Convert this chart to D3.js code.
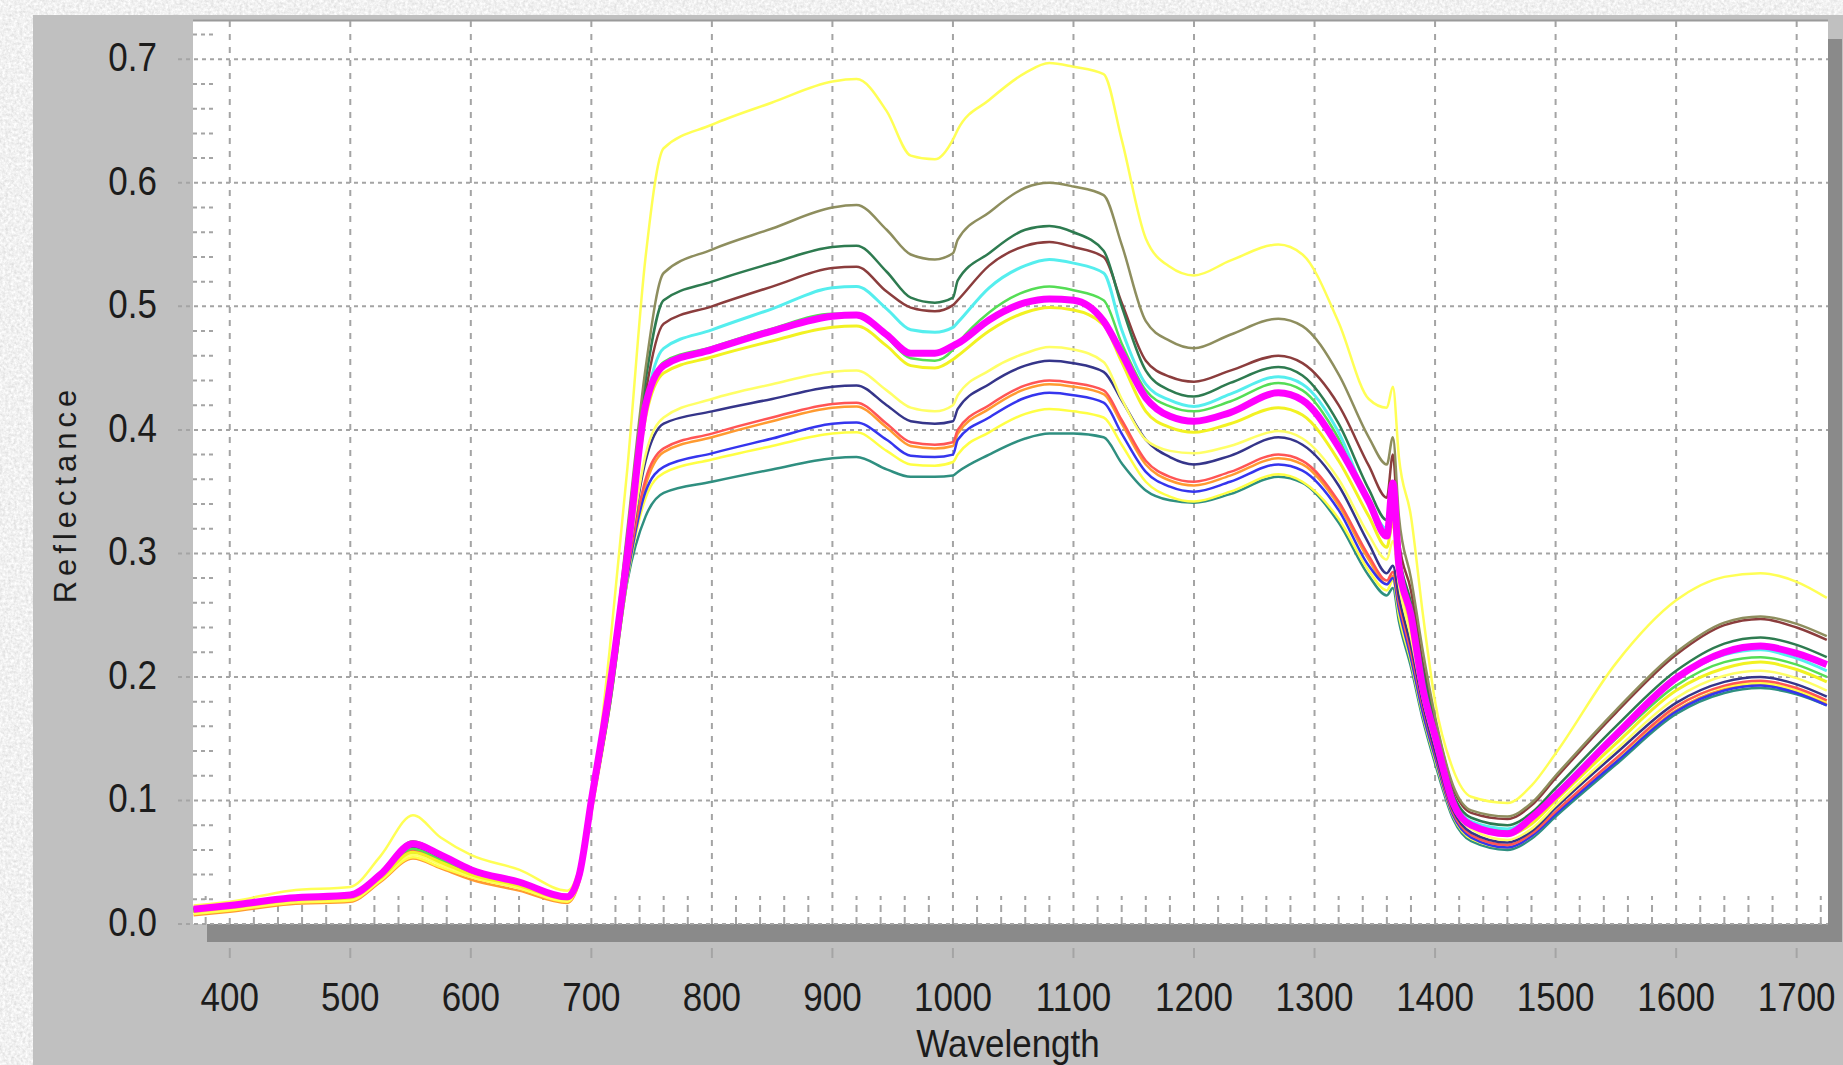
<!DOCTYPE html>
<html>
<head><meta charset="utf-8">
<style>
  body { margin: 0; background: #e2e2e2; overflow: hidden; }
  svg { display: block; }
  text { font-family: "Liberation Sans", Arial, sans-serif; fill: #1c1c1c; }
</style>
</head>
<body>
<script src="https://d3js.org/d3.v7.min.js"></script>
<script>
// ---- data ----
var wavelengths = [370,400,450,500,525,552,575,600,640,680,690,700,715,730,745,760,800,850,900,920,945,965,985,1000,1004,1030,1060,1080,1100,1125,1140,1160,1180,1200,1230,1270,1290,1320,1345,1360,1365,1370,1380,1390,1400,1415,1430,1460,1480,1500,1550,1600,1640,1670,1700,1725];

var yellowTop = [.015,.018,.027,.030,.055,.088,.070,.056,.044,.027,.045,.095, .220,.370,.540,.628, .647,.665,.682,.684, .658,.622,.619,.635,.643, .667,.689,.697,.694,.688, .635,.555,.532,.525, .537,.550,.542,.487,.425, .418,.435,.378,.330,.250, .180,.125,.103, .098,.112,.138, .211,.262,.281,.284,.277,.264];
var olive = [.013,.016,.022,.024,.042,.067,.057,.045,.035,.023,.040,.098, .190,.320,.450,.527, .546,.563,.580,.582, .562,.542,.538,.543,.554, .576,.596,.600,.597,.590, .550,.488,.472,.466, .477,.490,.484,.445,.394, .372,.394,.330,.280,.220, .168,.112,.092, .087,.098,.120, .173,.220,.244,.249,.243,.233];
var darkGreen = [.013,.016,.022,.024,.041,.066,.056,.044,.034,.022,.040,.097, .188,.315,.440,.505, .520,.535,.548,.549, .528,.507,.503,.507,.521, .543,.562,.565,.560,.545, .500,.448,.432,.427, .438,.451,.444,.405,.352, .327,.345,.300,.260,.205, .160,.105,.086, .080,.090,.110, .160,.205,.227,.232,.226,.216];
var brown = [.012,.015,.021,.023,.041,.066,.056,.044,.034,.022,.040,.097, .186,.312,.430,.486, .500,.516,.531,.532, .512,.499,.496,.501,.505, .533,.549,.552,.548,.540, .503,.456,.443,.439, .448,.460,.454,.420,.371, .345,.380,.310,.270,.210, .165,.110,.090, .085,.096,.118, .171,.218,.242,.247,.240,.230];
var cyan = [.012,.015,.021,.023,.040,.064,.055,.043,.033,.022,.039,.096, .185,.305,.420,.466, .481,.498,.515,.516, .498,.481,.479,.483,.487, .515,.533,.538,.535,.527, .481,.437,.424,.419, .429,.443,.437,.398,.342, .320,.335,.290,.250,.195, .155,.102,.083, .077,.087,.106, .155,.198,.218,.222,.215,.205];
var green = [.011,.014,.020,.022,.039,.061,.052,.042,.032,.021,.038,.095, .185,.300,.415,.455, .467,.482,.494,.494, .475,.458,.456,.465,.470, .495,.512,.516,.513,.505, .470,.432,.419,.415, .423,.438,.432,.393,.340, .318,.330,.290,.245,.192, .152,.100,.081, .076,.085,.104, .150,.193,.212,.216,.210,.200];
var magenta = [.012,.015,.021,.0235,.040,.065,.056,.044,.034,.022,.040,.100, .190,.300,.420,.452, .465,.480,.492,.493, .477,.462,.462,.468,.470, .489,.503,.506,.505,.488, .462,.426,.411,.407, .414,.430,.424,.386,.342, .314,.357,.290,.250,.190, .152,.098,.080, .073,.086,.104, .153,.199,.220,.225,.219,.210];
var yellowA = [.010,.013,.019,.021,.037,.058,.050,.040,.031,.020,.037,.094, .183,.298,.410,.446, .459,.472,.483,.484, .468,.452,.450,.457,.460, .480,.495,.499,.497,.485, .455,.415,.402,.398, .405,.418,.412,.375,.330, .305,.325,.285,.240,.188, .148,.097,.079, .072,.081,.100, .146,.189,.207,.212,.206,.196];
var yellowB = [.009,.012,.018,.020,.036,.056,.048,.039,.030,.019,.036,.093, .180,.290,.380,.410, .425,.437,.447,.448, .432,.418,.415,.420,.428, .448,.462,.467,.465,.455, .425,.392,.383,.381, .387,.399,.393,.360,.315, .295,.310,.275,.232,.182, .145,.095,.077, .068,.077,.096, .141,.183,.201,.205,.199,.189];
var navy = [.011,.014,.020,.022,.039,.062,.053,.042,.032,.021,.038,.095, .180,.290,.375,.405, .415,.425,.435,.436, .420,.407,.405,.407,.417, .437,.452,.456,.454,.447, .424,.392,.378,.372, .379,.394,.388,.355,.308, .284,.290,.265,.225,.178, .140,.092,.074, .066,.075,.094, .138,.179,.196,.200,.194,.184];
var red = [.010,.013,.019,.021,.038,.060,.051,.041,.031,.020,.037,.094, .178,.285,.360,.385, .397,.410,.421,.422, .405,.390,.388,.390,.400, .420,.436,.440,.438,.432, .408,.375,.362,.358, .366,.380,.375,.342,.298, .278,.285,.260,.220,.175, .138,.090,.072, .064,.073,.091, .134,.176,.193,.197,.191,.181];
var orange = [.007,.010,.016,.018,.034,.053,.045,.036,.027,.017,.034,.090, .175,.280,.355,.382, .394,.407,.418,.419, .402,.387,.385,.387,.397, .417,.433,.437,.435,.429, .405,.372,.359,.355, .363,.377,.372,.339,.295, .275,.282,.257,.217,.172, .135,.088,.070, .062,.071,.089, .132,.173,.190,.194,.188,.178];
var blue = [.010,.013,.019,.021,.038,.060,.051,.041,.031,.020,.037,.093, .176,.282,.350,.370, .381,.393,.405,.406, .392,.379,.378,.380,.392, .410,.426,.430,.428,.422, .397,.366,.354,.350, .358,.372,.367,.335,.290, .275,.280,.255,.215,.170, .135,.088,.070, .062,.071,.089, .131,.172,.189,.193,.187,.177];
var yellowC = [.008,.011,.017,.019,.035,.054,.046,.038,.029,.018,.035,.092, .175,.280,.345,.365, .376,.387,.397,.398, .383,.372,.371,.374,.380, .398,.413,.417,.415,.410, .388,.358,.346,.342, .350,.364,.358,.328,.286, .270,.278,.250,.212,.168, .133,.087,.069, .062,.071,.090, .133,.176,.192,.195,.189,.180];
var teal = [.010,.013,.019,.021,.037,.058,.050,.040,.031,.020,.037,.093, .175,.278,.330,.349, .358,.368,.377,.378, .368,.362,.362,.363,.366, .380,.393,.397,.397,.394, .373,.351,.343,.341, .348,.362,.357,.325,.282, .266,.272,.245,.208,.165, .130,.085,.067, .060,.069,.087, .129,.170,.187,.191,.186,.177];

var xTicks = [400,500,600,700,800,900,1000,1100,1200,1300,1400,1500,1600,1700];
var yTicks = [0.0,0.1,0.2,0.3,0.4,0.5,0.6,0.7];
var xTitle = "Wavelength", yTitle = "Reflectance";

// drawing order (bottom first) and styles
var series = [
  {v: orange, c: "#ff9a30", w: 2.5},
  {v: teal, c: "#2f8f80", w: 2.5},
  {v: yellowC, c: "#ffff44", w: 2.5},
  {v: blue, c: "#3535ee", w: 2.5},
  {v: red, c: "#ff5555", w: 2.5},
  {v: navy, c: "#35358a", w: 2.5},
  {v: yellowB, c: "#ffff66", w: 2.5},
  {v: green, c: "#55dd55", w: 2.5},
  {v: yellowA, c: "#f2f222", w: 3},
  {v: cyan, c: "#55eeee", w: 3},
  {v: brown, c: "#8b3d3d", w: 2.5},
  {v: darkGreen, c: "#2e7b50", w: 2.5},
  {v: olive, c: "#8e8e5e", w: 2.5},
  {v: yellowTop, c: "#ffff55", w: 2.5},
  {v: magenta, c: "#ff00ff", w: 7}
];

var width = 1843, height = 1065;
var pLeft = 193, pTop = 21, pRight = 1828, pBottom = 924;

var svg = d3.select("body").append("svg")
    .attr("width", width)
    .attr("height", height);

// marble-ish backdrop
var defs = svg.append("defs");
var marble = defs.append("filter").attr("id", "marble")
    .attr("x", 0).attr("y", 0).attr("width", "100%").attr("height", "100%");
marble.append("feTurbulence").attr("type", "fractalNoise")
    .attr("baseFrequency", 0.35).attr("numOctaves", 4).attr("seed", 3);
marble.append("feColorMatrix").attr("type", "matrix")
    .attr("values", "0.4 0 0 0 0.68  0.4 0 0 0 0.68  0.4 0 0 0 0.68  0 0 0 0 1");
defs.append("clipPath").attr("id", "plotclip").append("rect")
    .attr("x", pLeft).attr("y", pTop).attr("width", pRight - pLeft).attr("height", pBottom - pTop);

svg.append("rect").attr("width", width).attr("height", height).attr("filter", "url(#marble)");
svg.append("rect").attr("x", 33).attr("y", 15).attr("width", width - 33).attr("height", height - 15)
    .attr("fill", "#c0c0c0");

// drop shadow + plot area
svg.append("rect").attr("x", pLeft + 14).attr("y", pTop + 18)
    .attr("width", pRight - pLeft).attr("height", pBottom - pTop).attr("fill", "#8a8a8a");
svg.append("rect").attr("x", pLeft).attr("y", pTop)
    .attr("width", pRight - pLeft).attr("height", pBottom - pTop).attr("fill", "#fff");
svg.append("line").attr("x1", pLeft).attr("x2", pRight).attr("y1", pTop - 0.5).attr("y2", pTop - 0.5)
    .attr("stroke", "#9a9a9a").attr("stroke-width", 2);

var x = d3.scaleLinear().domain([369.5, 1726]).range([pLeft, pRight]);
var y = d3.scaleLinear().domain([0, 0.731]).range([pBottom, pTop]);

var grid = svg.append("g").attr("stroke", "#a4a4a4").attr("stroke-width", 2).attr("fill", "none");

// horizontal grid (with outside tick)
grid.selectAll(".hg").data(yTicks).enter().append("line")
    .attr("x1", pLeft - 15).attr("x2", pRight)
    .attr("y1", d => y(d)).attr("y2", d => y(d))
    .attr("stroke-dasharray", "4 4");
// vertical grid
grid.selectAll(".vg").data(xTicks).enter().append("line")
    .attr("x1", d => x(d)).attr("x2", d => x(d))
    .attr("y1", pTop).attr("y2", pBottom)
    .attr("stroke-dasharray", "6 7");
// outside x ticks under the shadow
grid.selectAll(".vt").data(xTicks).enter().append("line")
    .attr("x1", d => x(d)).attr("x2", d => x(d))
    .attr("y1", pBottom + 24).attr("y2", pBottom + 34);

// minor ticks inside the plot
var yMinor = d3.range(0.02, 0.731, 0.02).filter(d => Math.abs(d * 10 - Math.round(d * 10)) > 0.01);
grid.selectAll(".ym").data(yMinor).enter().append("line")
    .attr("x1", pLeft).attr("x2", pLeft + 20)
    .attr("y1", d => y(d)).attr("y2", d => y(d))
    .attr("stroke-dasharray", "4 4");
var xMinor = d3.range(380, 1726, 20).filter(d => d % 100 !== 0);
grid.selectAll(".xm").data(xMinor).enter().append("line")
    .attr("x1", d => x(d)).attr("x2", d => x(d))
    .attr("y1", pBottom).attr("y2", pBottom - 28)
    .attr("stroke-dasharray", "7 5");

// spectra
var line = d3.line()
    .x((d, i) => x(wavelengths[i]))
    .y(d => y(d))
    .curve(d3.curveMonotoneX);

svg.append("g").attr("clip-path", "url(#plotclip)")
  .selectAll("path").data(series).enter().append("path")
    .attr("d", d => line(d.v))
    .attr("fill", "none")
    .attr("stroke", d => d.c)
    .attr("stroke-width", d => d.w)
    .attr("stroke-linejoin", "round");

// tick labels (slightly tall glyphs like the original)
svg.append("g").selectAll("text").data(yTicks).enter().append("text")
    .attr("transform", d => "translate(157," + (y(d) + 12) + ") scale(1,1.18)")
    .attr("text-anchor", "end")
    .attr("font-size", 35)
    .text(d => d.toFixed(1));

svg.append("g").selectAll("text").data(xTicks).enter().append("text")
    .attr("transform", d => "translate(" + x(d) + ",1011) scale(1,1.18)")
    .attr("text-anchor", "middle")
    .attr("font-size", 35)
    .text(d => d);

svg.append("text")
    .attr("transform", "translate(1008,1057) scale(1,1.1)")
    .attr("text-anchor", "middle")
    .attr("font-size", 35)
    .text(xTitle);

svg.append("text")
    .attr("transform", "translate(76,494) rotate(-90)")
    .attr("text-anchor", "middle")
    .attr("font-size", 31)
    .attr("letter-spacing", 5)
    .text(yTitle);
</script>
</body>
</html>
